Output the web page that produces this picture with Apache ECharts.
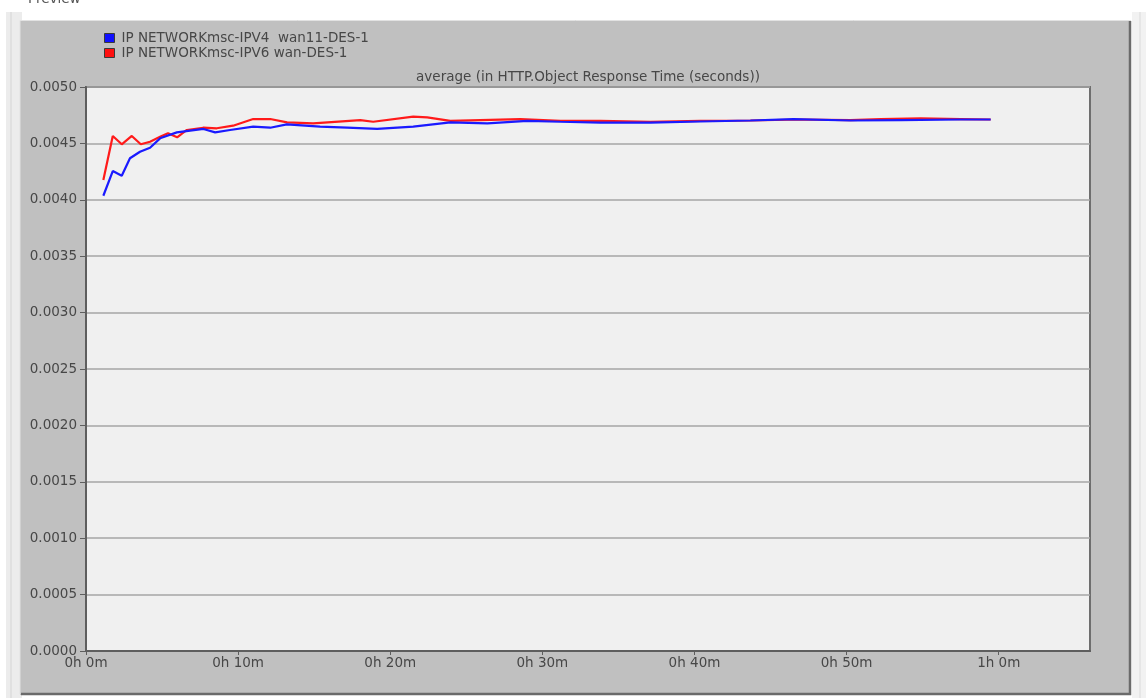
<!DOCTYPE html>
<html>
<head>
<meta charset="utf-8">
<title>HTTP Object Response Time</title>
<script src="https://cdn.jsdelivr.net/npm/echarts@6/dist/echarts.min.js"></script>
<style>
  html, body { margin: 0; padding: 0; background: #ffffff; }
  #chart { width: 1146px; height: 698px; }
</style>
</head>
<body>
<div id="chart"></div>
<script>
// Series names shown in the legend
const seriesNames = ['IP NETWORKmsc-IPV4  wan11-DES-1', 'IP NETWORKmsc-IPV6 wan-DES-1'];

// Simulation time (minutes) and average response time (seconds), IPv4 run
const ipv4Minutes = [1.14, 1.76, 2.35, 2.89, 3.55, 4.21, 4.87, 5.97, 7.72, 8.49, 9.47, 10.99, 12.11, 13.20,
  15.39, 17.17, 19.14, 21.51, 23.95, 26.38, 29.01, 31.18, 33.82, 37.11, 40.39, 43.68, 46.51, 50.26,
  53.55, 57.50, 59.47];
const ipv4Values = [0.004036, 0.004255, 0.004214, 0.004368, 0.004426, 0.004462, 0.004545, 0.004598,
  0.004628, 0.004598, 0.004619, 0.004648, 0.004639, 0.004669, 0.004648, 0.004639, 0.004628, 0.004648,
  0.004687, 0.004678, 0.004699, 0.004692, 0.004685, 0.004685, 0.004694, 0.004703, 0.004716, 0.004703,
  0.004707, 0.004712, 0.004712];

// Simulation time (minutes) and average response time (seconds), IPv6 run
const ipv6Minutes = [1.14, 1.76, 2.35, 3.01, 3.60, 4.21, 4.87, 5.39, 5.99, 6.63, 7.70, 8.60, 9.67, 10.99,
  12.11, 13.22, 14.93, 18.03, 18.88, 21.51, 22.43, 23.95, 25.92, 28.55, 31.18, 33.82, 37.11, 40.39,
  43.68, 46.97, 50.26, 52.24, 54.87, 57.50, 59.47];
const ipv6Values = [0.004176, 0.004566, 0.004492, 0.004566, 0.004492, 0.004515, 0.004559, 0.004590,
  0.004554, 0.004619, 0.004639, 0.004634, 0.004657, 0.004716, 0.004716, 0.004687, 0.004678, 0.004707,
  0.004692, 0.004737, 0.004731, 0.004699, 0.004707, 0.004716, 0.004699, 0.004699, 0.004690, 0.004699,
  0.004703, 0.004712, 0.004707, 0.004716, 0.004721, 0.004716, 0.004712];

// Axis tick labels
const xTickLabels = ['0h 0m', '0h 10m', '0h 20m', '0h 30m', '0h 40m', '0h 50m', '1h 0m'];
const chartTitle = 'average (in HTTP.Object Response Time (seconds))';

const toPairs = (xs, ys) => xs.map((x, i) => [x, ys[i]]);

const FONT = '"DejaVu Sans", "Liberation Sans", sans-serif';
const FS = 13.5;
const TEXT = '#474747';

const chart = echarts.init(document.getElementById('chart'), null, { renderer: 'canvas' });

chart.setOption({
  animation: false,
  backgroundColor: '#ffffff',
  graphic: [
    // window strip on the left
    { type: 'rect', z: -10, shape: { x: 6, y: 12, width: 16, height: 686 }, style: { fill: '#ececec' } },
    { type: 'line', z: -9, shape: { x1: 11, y1: 12, x2: 11, y2: 698 }, style: { stroke: '#d4d4d4', lineWidth: 1 } },
    // window strip on the right
    { type: 'rect', z: -10, shape: { x: 1132, y: 12, width: 14, height: 686 }, style: { fill: '#f2f2f2' } },
    { type: 'line', z: -9, shape: { x1: 1140, y1: 12, x2: 1140, y2: 698 }, style: { stroke: '#dadada', lineWidth: 1 } },
    // panel
    { type: 'rect', z: -8, shape: { x: 20, y: 20, width: 1111, height: 675 }, style: { fill: '#c0c0c0' } },
    { type: 'polyline', z: -7, shape: { points: [[20, 694], [20, 20.5], [1131, 20.5]] }, style: { stroke: '#e2e2e2', lineWidth: 1, fill: null } },
    { type: 'polyline', z: -7, shape: { points: [[21, 694], [1130, 694], [1130, 21]] }, style: { stroke: '#6a6a6a', lineWidth: 2.5, fill: null } },
    // caption cut off at the top
    { type: 'text', z: 5, x: 28, y: -8, style: { text: 'Preview', font: FS + 'px ' + FONT, fill: '#555' } },
    // chart title above the plot
    { type: 'text', z: 5, x: 588, y: 77, style: { text: chartTitle, font: FS + 'px ' + FONT, fill: TEXT, align: 'center', verticalAlign: 'middle' } }
  ],
  legend: {
    data: seriesNames,
    orient: 'vertical',
    left: 104,
    top: 31,
    padding: 0,
    itemGap: 1,
    itemWidth: 10,
    itemHeight: 9,
    icon: 'rect',
    itemStyle: { borderColor: '#3a3a3a', borderWidth: 1 },
    textStyle: { fontFamily: FONT, fontSize: FS, color: TEXT, lineHeight: 12, padding: [0, 0, 0, 2] }
  },
  grid: {
    left: 86,
    top: 87,
    right: 56,
    bottom: 47,
    show: true,
    backgroundColor: '#f0f0f0',
    borderColor: '#6e6e6e',
    borderWidth: 2
  },
  xAxis: {
    type: 'value',
    min: 0,
    max: 66,
    interval: 10,
    axisLine: { show: true, lineStyle: { color: '#5e5e5e', width: 2 } },
    axisTick: { show: true, length: 4, lineStyle: { color: '#5e5e5e' } },
    splitLine: { show: false },
    axisLabel: {
      showMaxLabel: false,
      margin: 5,
      fontFamily: FONT,
      fontSize: FS,
      color: TEXT,
      formatter: v => xTickLabels[Math.round(v / 10)] ?? ''
    }
  },
  yAxis: {
    type: 'value',
    min: 0,
    max: 0.005,
    interval: 0.0005,
    axisLine: { show: true, lineStyle: { color: '#5e5e5e', width: 2 } },
    axisTick: { show: true, length: 6, lineStyle: { color: '#5e5e5e' } },
    splitLine: { show: true, lineStyle: { color: '#a6a6a6', width: 1.5 } },
    axisLabel: {
      margin: 9,
      fontFamily: FONT,
      fontSize: FS,
      color: TEXT,
      formatter: v => v.toFixed(4)
    }
  },
  series: [
    {
      name: seriesNames[1],
      type: 'line',
      data: toPairs(ipv6Minutes, ipv6Values),
      showSymbol: false,
      color: '#ff1010',
      lineStyle: { color: '#ff1a1a', width: 2.2 },
      z: 2
    },
    {
      name: seriesNames[0],
      type: 'line',
      data: toPairs(ipv4Minutes, ipv4Values),
      showSymbol: false,
      color: '#1010ff',
      lineStyle: { color: '#1a1aff', width: 2.2 },
      z: 3
    }
  ]
});
</script>
</body>
</html>
